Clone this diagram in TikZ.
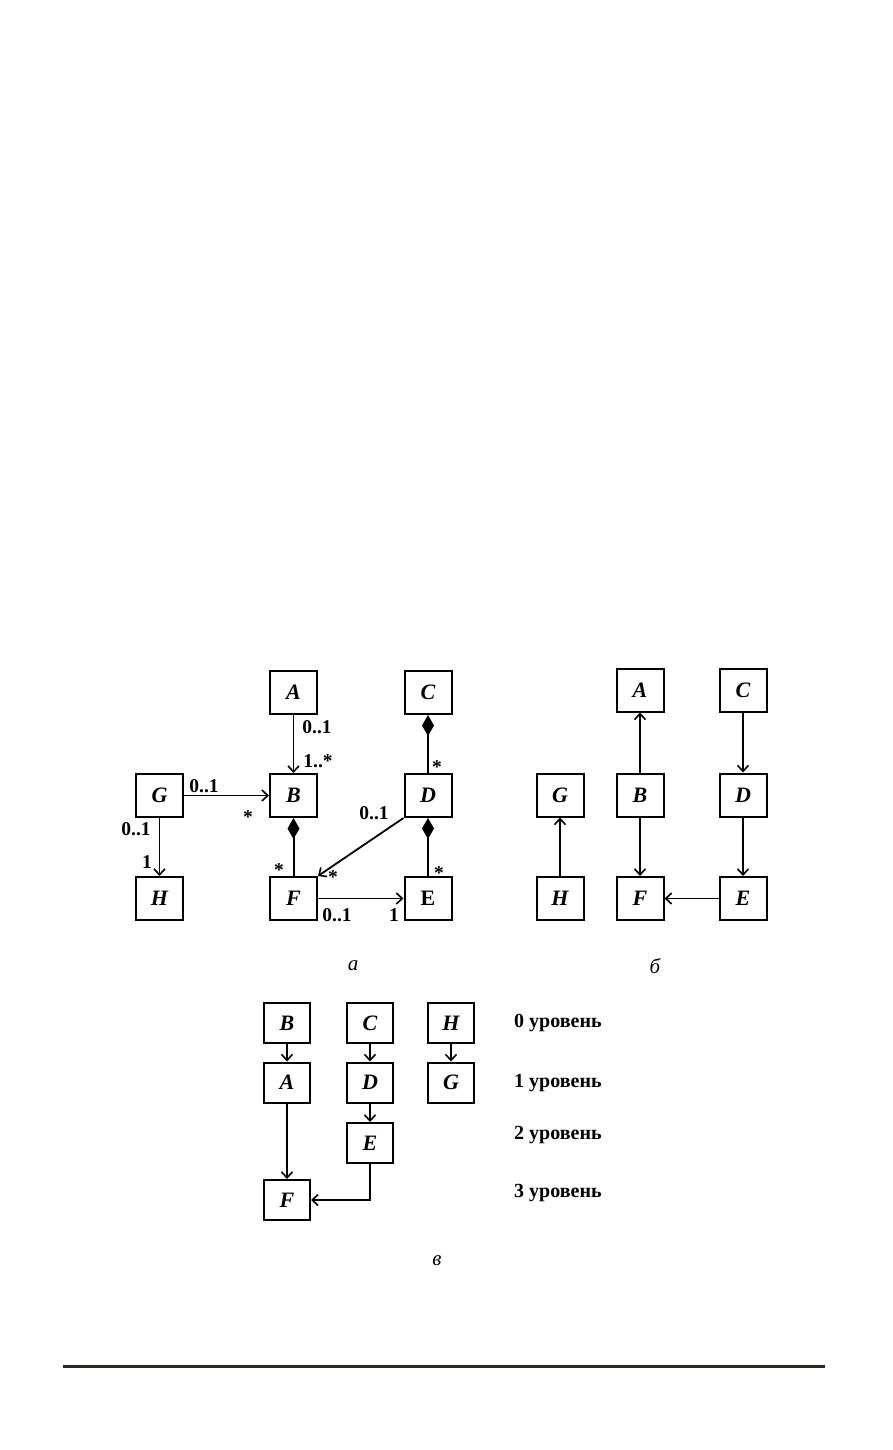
\documentclass[tikz,border=0pt]{standalone}
\usepackage{fontspec}
\setmainfont{Liberation Serif}
\usetikzlibrary{arrows.meta}
\definecolor{rulecol}{RGB}{40,40,30}
\begin{document}
\begin{tikzpicture}[x=1pt,y=-1pt,
  box/.style={draw, line width=2pt, minimum width=47pt, minimum height=43pt, inner sep=0pt,
    font=\bfseries\itshape\fontsize{22}{22}\selectfont},
  cbox/.style={box, minimum width=46pt, minimum height=40pt},
  arr/.style={line width=1.8pt, -{Straight Barb[length=6pt,width=11pt,line width=1.6pt]}},
  comp/.style={line width=2pt, {Diamond[length=21pt,width=12pt]}-},
  mult/.style={font=\bfseries\fontsize{19.5}{19.5}\selectfont, inner sep=0pt},
  lev/.style={font=\bfseries\fontsize{20}{20}\selectfont, inner sep=0pt, anchor=west},
  capt/.style={font=\itshape\fontsize{21}{21}\selectfont, inner sep=0pt}]
\useasboundingbox (0,0) rectangle (892,1450);
% ---------- diagram a ----------
\node[box] (aA) at (293.5,692.5) {A};
\node[box] (aC) at (428,692.5) {C};
\node[box] (aG) at (159.5,795.5) {G};
\node[box] (aB) at (293.5,795.5) {B};
\node[box] (aD) at (428,795.5) {D};
\node[box] (aH) at (159.5,898.5) {H};
\node[box] (aF) at (293.5,898.5) {F};
\node[box,font=\bfseries\fontsize{22}{22}\selectfont] (aE) at (428,898.5) {E};
\draw[arr] (aA) -- (aB);
\draw[arr] (aG) -- (aB);
\draw[arr] (aG) -- (aH);
\draw[comp] (aB) -- (aF);
\draw[comp] (aC) -- (aD);
\draw[comp] (aD) -- (aE);
\draw[arr] (aD.south west) -- (aF.north east);
\draw[arr] (aF) -- (aE);
\node[mult] (m1) at (317,727) {0..1};
\node[mult] (m2) at (318,761) {1..*};
\node[mult] (m3) at (204,786) {0..1};
\node[mult] (m4) at (248,817) {*};
\node[mult] (m5) at (136,829) {0..1};
\node[mult] (m6) at (147,862) {1};
\node[mult] (m7) at (437,767) {*};
\node[mult] (m8) at (374,813) {0..1};
\node[mult] (m9) at (279,870) {*};
\node[mult] (m10) at (333,877) {*};
\node[mult] (m11) at (439,873) {*};
\node[mult] (m12) at (337,915) {0..1};
\node[mult] (m13) at (394,915) {1};
\node[capt] (ca) at (353,966) {а};
% ---------- diagram b ----------
\node[box] (bA) at (640,690) {A};
\node[box] (bC) at (743,690) {C};
\node[box] (bG) at (560,795) {G};
\node[box] (bB) at (640,795) {B};
\node[box] (bD) at (743,795) {D};
\node[box] (bH) at (560,898.5) {H};
\node[box] (bF) at (640,898.5) {F};
\node[box] (bE) at (743,898.5) {E};
\draw[arr] (bB) -- (bA);
\draw[arr] (bB) -- (bF);
\draw[arr] (bC) -- (bD);
\draw[arr] (bD) -- (bE);
\draw[arr] (bE) -- (bF);
\draw[arr] (bH) -- (bG);
\node[capt] (cb) at (655,966) {б};
% ---------- diagram c ----------
\node[cbox] (cB) at (287,1023) {B};
\node[cbox] (cC) at (370,1023) {C};
\node[cbox] (cH) at (451,1023) {H};
\node[cbox] (cA) at (287,1082.5) {A};
\node[cbox] (cD) at (370,1082.5) {D};
\node[cbox] (cG) at (451,1082.5) {G};
\node[cbox] (cE) at (370,1143) {E};
\node[cbox] (cF) at (287,1200) {F};
\draw[arr] (cB) -- (cA);
\draw[arr] (cC) -- (cD);
\draw[arr] (cH) -- (cG);
\draw[arr] (cD) -- (cE);
\draw[arr] (cA) -- (cF);
\draw[arr] (cE.south) |- (cF.east);
\node[lev] (l0) at (514,1023) {0 уровень};
\node[lev] (l1) at (514,1083) {1 уровень};
\node[lev] (l2) at (514,1135) {2 уровень};
\node[lev] (l3) at (514,1193) {3 уровень};
\node[capt] (cc) at (437,1261) {в};
% ---------- rule ----------
\coordinate (r1) at (63,1366);
\coordinate (r2) at (825,1366);
\draw[line width=3pt, rulecol] (r1) -- (r2);
\end{tikzpicture}
\end{document}
